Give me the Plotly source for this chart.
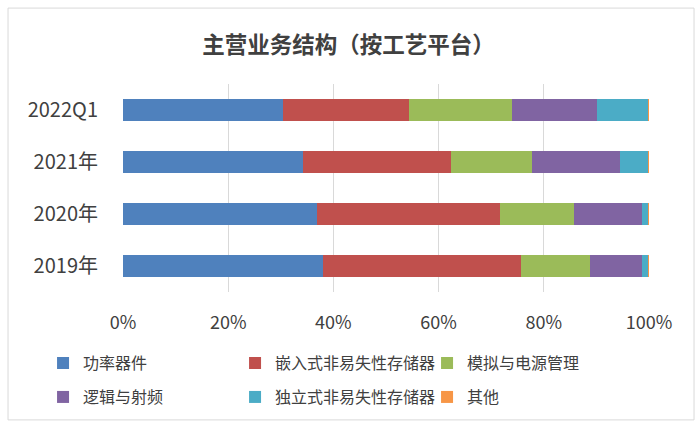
import plotly.graph_objects as go

categories = ["2019年", "2020年", "2021年", "2022Q1"]
series_names = ["功率器件", "嵌入式非易失性存储器", "模拟与电源管理", "逻辑与射频", "独立式非易失性存储器", "其他"]
power = [38.1, 36.8, 34.3, 30.5]
embedded_nvm = [37.5, 34.9, 28.1, 23.9]
analog = [13.2, 14.1, 15.3, 19.5]
logic_rf = [9.9, 12.9, 16.8, 16.2]
standalone_nvm = [1.2, 1.2, 5.4, 9.8]
other = [0.1, 0.1, 0.1, 0.1]
colors = ["#4F81BD", "#C0504D", "#9BBB59", "#8064A2", "#4BACC6", "#F79646"]
x_ticks = [0, 20, 40, 60, 80, 100]
x_tick_labels = ["0%", "20%", "40%", "60%", "80%", "100%"]

values = [power, embedded_nvm, analog, logic_rf, standalone_nvm, other]

fig = go.Figure()
for i, (name, vals, col) in enumerate(zip(series_names, values, colors)):
    fig.add_trace(go.Bar(
        y=categories, x=vals, name=name, orientation="h",
        marker=dict(color=col, line=dict(width=0)),
        legend="legend" if i < 3 else "legend2",
    ))

font_family = "Noto Sans CJK SC"
legend_common = dict(orientation="h", x=-0.152, xanchor="left", yanchor="middle",
                     entrywidth=147, entrywidthmode="pixels", traceorder="normal",
                     font=dict(size=16, color="#404040"), itemwidth=30,
                     tracegroupgap=0, bgcolor="rgba(0,0,0,0)")
fig.update_layout(
    barmode="stack",
    bargap=0.58,
    width=700, height=430,
    paper_bgcolor="white", plot_bgcolor="white",
    margin=dict(l=123, r=51, t=84, b=138),
    title=dict(text="<b>主营业务结构（按工艺平台）</b>", x=0.498, xanchor="center",
               y=0.895, yanchor="middle",
               font=dict(family=font_family, size=22.5, color="#404040")),
    font=dict(family=font_family, color="#404040"),
    xaxis=dict(range=[0, 100], tickvals=x_ticks, ticktext=x_tick_labels,
               showgrid=True, gridcolor="#D9D9D9", gridwidth=1,
               zeroline=False, showline=False, ticks="",
               tickfont=dict(size=18, color="#404040"), ticklabelstandoff=18),
    yaxis=dict(categoryorder="array", categoryarray=categories,
               showgrid=False, zeroline=False, showline=False, ticks="",
               tickfont=dict(size=20, color="#404040"), ticklabelstandoff=24),
    legend=dict(y=-0.342, **legend_common),
    legend2=dict(y=-0.505, **legend_common),
    shapes=[dict(type="rect", xref="paper", yref="paper", x0=-0.2186, x1=1.0856,
                 y0=-0.615, y1=1.365, line=dict(color="#D9D9D9", width=1))],
)

fig.write_html("out.html")
